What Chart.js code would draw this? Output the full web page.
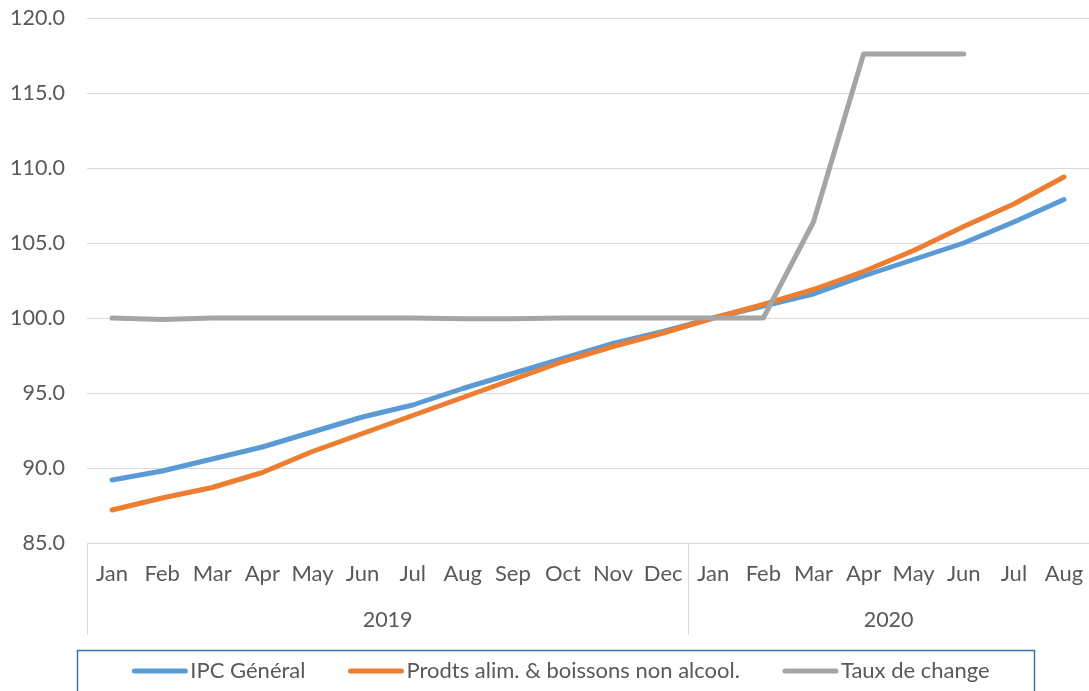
<!DOCTYPE html>
<html>
<head>
<meta charset="utf-8">
<script src="https://cdn.jsdelivr.net/npm/chart.js@4/dist/chart.umd.min.js"></script>
<style>
html,body{margin:0;padding:0;background:#fff;}
#wrap{width:1089px;height:691px;position:relative;}
</style>
</head>
<body>
<div id="wrap"><canvas id="c" width="1089" height="691"></canvas></div>
<script>
const months = ['Jan','Feb','Mar','Apr','May','Jun','Jul','Aug','Sep','Oct','Nov','Dec','Jan','Feb','Mar','Apr','May','Jun','Jul','Aug'];
const yearLabels = ['2019','2020'];
const yearSpans = [12, 8];
const ipcGeneral = [89.2, 89.8, 90.6, 91.4, 92.4, 93.4, 94.2, 95.3, 96.3, 97.3, 98.3, 99.1, 100.0, 100.8, 101.6, 102.8, 103.9, 105.0, 106.4, 107.9];
const prodtsAlim = [87.2, 88.0, 88.7, 89.7, 91.1, 92.3, 93.5, 94.7, 95.9, 97.1, 98.1, 99.0, 100.0, 100.9, 101.9, 103.1, 104.5, 106.1, 107.6, 109.4];
const tauxChange = [100.0, 99.9, 100.0, 100.0, 100.0, 100.0, 100.0, 99.95, 99.95, 100.0, 100.0, 100.0, 100.0, 100.0, 106.4, 117.6, 117.6, 117.6, null, null];
const seriesNames = ['IPC Général', 'Prodts alim. & boissons non alcool.', 'Taux de change'];
const seriesColors = ['#5b9bd5', '#ed7d31', '#a5a5a5'];
const yMin = 85, yMax = 120, yStep = 5;

const FONT = 'Lato, "Open Sans", sans-serif';
const TXT = '#595959';
const GRID = '#d9d9d9';

const yearPlugin = {
  id: 'yearPlugin',
  afterDraw(chart) {
    const ctx = chart.ctx;
    const x = chart.scales.x;
    const top = chart.chartArea.bottom;
    const bottom = top + 92;
    const half = (x.getPixelForValue(1) - x.getPixelForValue(0)) / 2;
    ctx.save();
    ctx.strokeStyle = GRID;
    ctx.lineWidth = 1;
    let idx = 0;
    const bounds = [];
    for (let i = 0; i < yearSpans.length; i++) {
      const left = x.getPixelForValue(idx) - half;
      const right = x.getPixelForValue(idx + yearSpans[i] - 1) + half;
      bounds.push([left, right]);
      idx += yearSpans[i];
    }
    bounds.forEach((b) => {
      ctx.beginPath();
      ctx.moveTo(Math.round(b[0]) + 0.5, top);
      ctx.lineTo(Math.round(b[0]) + 0.5, bottom);
      ctx.stroke();
    });
    ctx.fillStyle = TXT;
    ctx.font = '21.5px ' + FONT;
    ctx.textAlign = 'center';
    ctx.textBaseline = 'middle';
    bounds.forEach((b, i) => {
      ctx.fillText(yearLabels[i], (b[0] + b[1]) / 2, 620);
    });
    ctx.restore();
  }
};

const legendPlugin = {
  id: 'boxLegend',
  afterDraw(chart) {
    const ctx = chart.ctx;
    ctx.save();
    ctx.strokeStyle = '#2e75b6';
    ctx.lineWidth = 1.5;
    ctx.strokeRect(77.5, 650.5, 957, 60);
    ctx.font = '22px ' + FONT;
    ctx.textBaseline = 'middle';
    const sample = 55, gapT = 3, gapI = 43;
    const ds = chart.data.datasets;
    const widths = ds.map(d => sample + gapT + ctx.measureText(d.label).width);
    const total = widths.reduce((a, b) => a + b, 0) + gapI * (ds.length - 1);
    let x = 561 - total / 2;
    const y = 671;
    ds.forEach((d, i) => {
      ctx.strokeStyle = d.borderColor;
      ctx.lineWidth = 5;
      ctx.lineCap = 'round';
      ctx.beginPath();
      ctx.moveTo(x + 2, y);
      ctx.lineTo(x + sample - 2, y);
      ctx.stroke();
      ctx.fillStyle = TXT;
      ctx.textAlign = 'left';
      ctx.fillText(d.label, x + sample + gapT, y);
      x += widths[i] + gapI;
    });
    ctx.restore();
  }
};

const mk = (i, data, order) => ({
  label: seriesNames[i],
  data: data,
  borderColor: seriesColors[i],
  backgroundColor: seriesColors[i],
  borderWidth: 5,
  borderCapStyle: 'round',
  borderJoinStyle: 'round',
  pointRadius: 0,
  pointHoverRadius: 0,
  tension: 0,
  fill: false,
  spanGaps: false,
  order: order
});

new Chart(document.getElementById('c'), {
  type: 'line',
  data: {
    labels: months,
    datasets: [mk(0, ipcGeneral, 3), mk(1, prodtsAlim, 2), mk(2, tauxChange, 1)]
  },
  options: {
    responsive: false,
    animation: false,
    events: [],
    layout: { padding: { top: 18, right: 0, bottom: 56, left: 0 } },
    plugins: { legend: { display: false }, tooltip: { enabled: false }, title: { display: false } },
    scales: {
      x: {
        type: 'category',
        offset: true,
        grid: { display: false, drawTicks: false },
        border: { display: false },
        ticks: { color: TXT, font: { family: FONT, size: 22 }, padding: 18, maxRotation: 0, autoSkip: false },
        afterFit(s) { s.height = 92; s.paddingRight = 0; s.paddingLeft = 0; }
      },
      y: {
        min: yMin,
        max: yMax,
        grid: { color: GRID, lineWidth: 1, drawTicks: false },
        border: { display: false },
        ticks: {
          stepSize: yStep,
          color: TXT,
          font: { family: FONT, size: 21.5 },
          padding: 22,
          callback: v => Number(v).toFixed(1)
        },
        afterFit(s) { s.width = 87; s.paddingTop = 0; s.paddingBottom = 0; }
      }
    }
  },
  plugins: [yearPlugin, legendPlugin]
});
</script>
</body>
</html>
